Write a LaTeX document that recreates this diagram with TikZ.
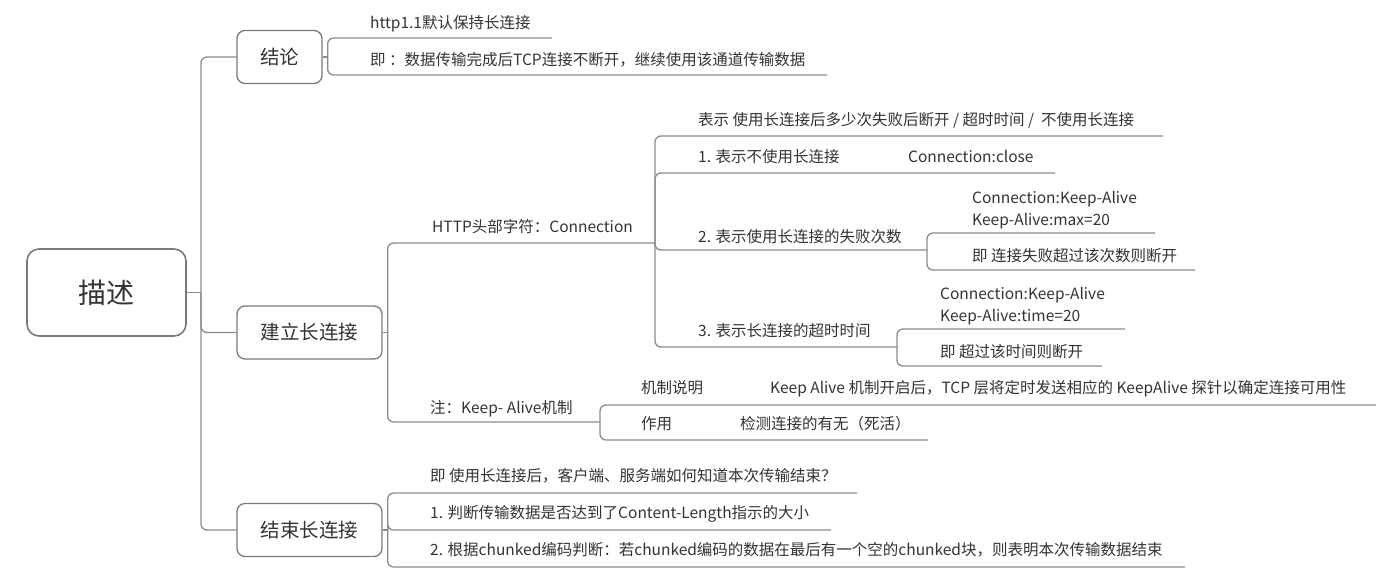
\documentclass[tikz,border=0pt]{standalone}
\usepackage{fontspec}
\setmainfont{Noto Sans CJK SC}
\usepackage{xcolor}
\usepackage{tikz}
\usetikzlibrary{positioning}
\definecolor{linegray}{HTML}{8C8C8C}
\definecolor{boxgray}{HTML}{7A7A7A}
\definecolor{textgray}{HTML}{333333}
\tikzstyle{rootbox} = [
    rectangle, draw=boxgray, line width=1.6pt, rounded corners=12pt,
    minimum width=159pt, minimum height=87pt, text=textgray,
    font=\fontsize{28}{30}\selectfont
]
\tikzstyle{topicbox} = [
    rectangle, draw=boxgray, line width=1.3pt, rounded corners=8pt,
    minimum height=53pt, text=textgray, font=\fontsize{19.5}{22}\selectfont
]
\tikzstyle{leaf} = [anchor=base west, inner sep=0pt, text=textgray, font=\fontsize{15.5}{22}\selectfont]
\tikzstyle{leaftwo} = [anchor=south west, inner sep=0pt, align=left, text=textgray, font=\fontsize{15.5}{22}\selectfont]
\tikzstyle{branch} = [draw=linegray, line width=1.3pt, rounded corners=6pt]

\begin{document}
\begin{tikzpicture}[x=1pt, y=-1pt]
    \useasboundingbox (0,0) rectangle (1398,582);

    \node [rootbox] (miaoshu) at (106.5,292.5) {描述};
    \node [topicbox, minimum width=85pt] (jielun) at (279.5,57) {结论};
    \node [topicbox, minimum width=145pt] (jianli) at (309.5,332.5) {建立长连接};
    \node [topicbox, minimum width=145pt] (jieshu) at (309.5,530) {结束长连接};

    \coordinate (trunk) at (201,292.5);
    \path [branch] (miaoshu.east) -- (trunk);
    \path [branch] (trunk) |- (jielun.west);
    \path [branch] (trunk) |- (jianli.west);
    \path [branch] (trunk) |- (jieshu.west);

    % 结论
    \node [leaf] (http11) at (370,28.5) {http1.1默认保持长连接};
    \node [leaf] (jlnote) at (370,65.5) {即 ：数据传输完成后TCP连接不断开，继续使用该通道传输数据};
    \coordinate (http11-end) at (552,38);
    \coordinate (jlnote-end) at (827,75);
    \path [branch] (jielun.east) -- ++(5,0) coordinate (jl-fork);
    \path [branch] (jl-fork) |- (http11-end);
    \path [branch] (jl-fork) |- (jlnote-end);

    % 建立长连接
    \node [leaf] (header) at (432,232.5) {HTTP头部字符：Connection};
    \node [leaf] (kanote) at (430,413.5) {注：Keep- Alive机制};
    \coordinate (header-fork) at (655,243);
    \coordinate (kanote-fork) at (600,422);
    \path [branch] (jianli.east) -- ++(5,0) coordinate (jl2-fork);
    \path [branch] (jl2-fork) |- (header-fork);
    \path [branch] (jl2-fork) |- (kanote-fork);

    \node [leaf] (meaning) at (698,125.5) {表示 使用长连接后多少次失败后断开 / 超时时间 /\ \ 不使用长连接};
    \node [leaf] (noka) at (698,162.5) {1. 表示不使用长连接};
    \node [leaf] (close) at (908,162.5) {Connection:close};
    \node [leaf] (maxnum) at (698,242.5) {2. 表示使用长连接的失败次数};
    \node [leaf] (timeout) at (698,336.5) {3. 表示长连接的超时时间};
    \coordinate (meaning-end) at (1163,136);
    \coordinate (close-end) at (1055,173);
    \coordinate (maxnum-fork) at (927,250);
    \coordinate (timeout-fork) at (897,347);
    \path [branch] (header-fork) |- (meaning-end);
    \path [branch] (header-fork) |- (close-end);
    \path [branch] (header-fork) |- (maxnum-fork);
    \path [branch] (header-fork) |- (timeout-fork);

    \node [leaftwo] (kamax) at (972,229) {Connection:Keep-Alive\\Keep-Alive:max=20};
    \node [leaf] (maxnote) at (972,261.5) {即 连接失败超过该次数则断开};
    \coordinate (kamax-end) at (1155,233);
    \coordinate (maxnote-end) at (1195,270);
    \path [branch] (maxnum-fork) |- (kamax-end);
    \path [branch] (maxnum-fork) |- (maxnote-end);

    \node [leaftwo] (katime) at (940,325) {Connection:Keep-Alive\\Keep-Alive:time=20};
    \node [leaf] (timenote) at (940,357.5) {即 超过该时间则断开};
    \coordinate (katime-end) at (1125,329);
    \coordinate (timenote-end) at (1102,366);
    \path [branch] (timeout-fork) |- (katime-end);
    \path [branch] (timeout-fork) |- (timenote-end);

    \node [leaf] (mech) at (641,393.5) {机制说明};
    \node [leaf] (mechtext) at (770,393.5) {Keep Alive 机制开启后，TCP 层将定时发送相应的 KeepAlive 探针以确定连接可用性};
    \node [leaf] (effect) at (641,429.5) {作用};
    \node [leaf] (effecttext) at (740,429.5) {检测连接的有无（死活）};
    \coordinate (mech-end) at (1376,405);
    \coordinate (effect-end) at (928,440);
    \path [branch] (kanote-fork) |- (mech-end);
    \path [branch] (kanote-fork) |- (effect-end);

    % 结束长连接
    \node [leaf] (question) at (430,481.5) {即 使用长连接后，客户端、服务端如何知道本次传输结束？};
    \node [leaf] (bylength) at (430,518.5) {1. 判断传输数据是否达到了Content-Length指示的大小};
    \node [leaf] (bychunk) at (430,555.5) {2. 根据chunked编码判断：若chunked编码的数据在最后有一个空的chunked块，则表明本次传输数据结束};
    \coordinate (question-end) at (857,493);
    \coordinate (bylength-end) at (831,530);
    \coordinate (bychunk-end) at (1185,567);
    \path [branch] (jieshu.east) -- ++(5,0) coordinate (js-fork);
    \path [branch] (js-fork) |- (question-end);
    \path [branch] (js-fork) |- (bylength-end);
    \path [branch] (js-fork) |- (bychunk-end);
\end{tikzpicture}
\end{document}
